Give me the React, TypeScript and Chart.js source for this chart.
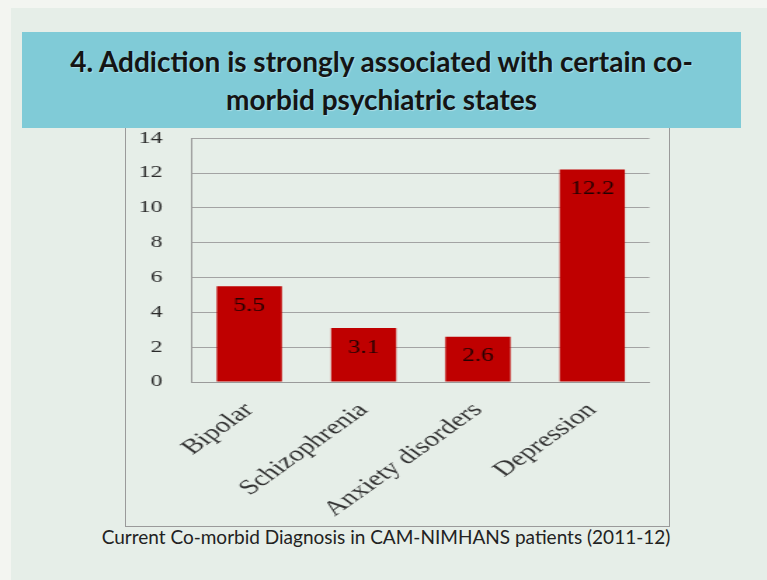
import React, { useEffect, useRef } from "react";
import { Chart, registerables } from "chart.js";

Chart.register(...registerables);

const categories = ["Bipolar", "Schizophrenia", "Anxiety disorders", "Depression"];
const values = [5.5, 3.1, 2.6, 12.2];
const yMin = 0;
const yMax = 14;
const yStep = 2;
const titleLines = [
  "4. Addiction is strongly associated with certain co-",
  "morbid psychiatric states",
];
const caption = "Current Co-morbid Diagnosis in CAM-NIMHANS patients (2011-12)";

// the chart picture in the slide is stretched horizontally
const STRETCH = 1.4;
const CHART_W = 544 / STRETCH;
const CHART_TOP = 107;
const CHART_H = 525 - CHART_TOP;

const valueLabels = {
  id: "valueLabels",
  afterDatasetsDraw(chart: any) {
    const ctx = chart.ctx;
    const meta = chart.getDatasetMeta(0);
    ctx.save();
    ctx.font = "18px 'Liberation Serif'";
    ctx.fillStyle = "#220202";
    ctx.textAlign = "center";
    ctx.textBaseline = "middle";
    meta.data.forEach((el: any, i: number) => {
      ctx.fillText(String(values[i]), el.x, el.y + 20);
    });
    ctx.restore();
  },
};

function BarChart() {
  const ref = useRef<HTMLCanvasElement | null>(null);
  useEffect(() => {
    if (!ref.current) return;
    const chart = new Chart(ref.current, {
      type: "bar",
      data: {
        labels: categories,
        datasets: [
          {
            data: values,
            backgroundColor: "#bf0000",
            borderWidth: 0,
            barPercentage: 0.57,
            categoryPercentage: 1,
          },
        ],
      },
      options: {
        animation: false,
        responsive: true,
        maintainAspectRatio: false,
        layout: { padding: { top: 10, right: CHART_W - (648 - 125) / STRETCH, left: 0, bottom: 0 } },
        plugins: {
          legend: { display: false },
          title: { display: false },
          tooltip: { enabled: false },
        },
        scales: {
          x: {
            grid: { display: false },
            border: { display: true, color: "#9a9a9a", width: 1 },
            ticks: {
              minRotation: 45,
              maxRotation: 45,
              padding: 8,
              color: "#333333",
              font: { family: "'Liberation Serif'", size: 21 },
            },
            afterFit(scale: any) {
              scale.height = 143;
            },
          },
          y: {
            min: yMin,
            max: yMax,
            grid: { color: "#a3a3a3", lineWidth: 1, drawTicks: false },
            border: { display: true, color: "#9a9a9a", width: 1 },
            ticks: {
              stepSize: yStep,
              padding: 21,
              color: "#2a2a2a",
              font: { family: "'Liberation Serif'", size: 17 },
            },
            afterFit(scale: any) {
              scale.width = (192 - 125) / STRETCH;
            },
          },
        },
      },
      plugins: [valueLabels],
    });
    return () => chart.destroy();
  }, []);
  return (
    <div
      style={{
        position: "absolute",
        left: 125,
        top: CHART_TOP,
        width: CHART_W,
        height: CHART_H,
        transform: `scaleX(${STRETCH})`,
        transformOrigin: "0 0",
      }}
    >
      <canvas ref={ref} />
    </div>
  );
}

export default function App() {
  return (
    <div
      style={{
        position: "absolute",
        left: 0,
        top: 0,
        width: 767,
        height: 580,
        background: "#f3f5f1",
        overflow: "hidden",
      }}
    >
      <div
        style={{
          position: "absolute",
          left: 11,
          top: 8,
          width: 756,
          height: 572,
          background: "#e6eee8",
        }}
      />
      {/* chart picture frame */}
      <div
        style={{
          position: "absolute",
          left: 125,
          top: 110,
          width: 543,
          height: 415,
          border: "1px solid #9a9a9a",
        }}
      />
      <BarChart />
      {/* title box */}
      <div
        style={{
          position: "absolute",
          left: 22,
          top: 32,
          width: 719,
          height: 96,
          background: "#80cbd7",
          zIndex: 2,
          display: "flex",
          flexDirection: "column",
          alignItems: "center",
          justifyContent: "center",
          fontFamily: "Lato, 'Open Sans', sans-serif",
          fontWeight: 700,
          fontSize: 28,
          lineHeight: "38px",
          color: "#141414",
          textShadow: "1px 1px 1px rgba(255,255,255,0.35)",
        }}
      >
        {titleLines.map((t) => (
          <div key={t} style={{ whiteSpace: "nowrap" }}>
            {t}
          </div>
        ))}
      </div>
      <div
        style={{
          position: "absolute",
          left: 0,
          width: 772,
          top: 525,
          height: 24,
          lineHeight: "24px",
          textAlign: "center",
          fontFamily: "Lato, 'Open Sans', sans-serif",
          fontSize: 19,
          color: "#222",
          whiteSpace: "nowrap",
        }}
      >
        {caption}
      </div>
    </div>
  );
}
